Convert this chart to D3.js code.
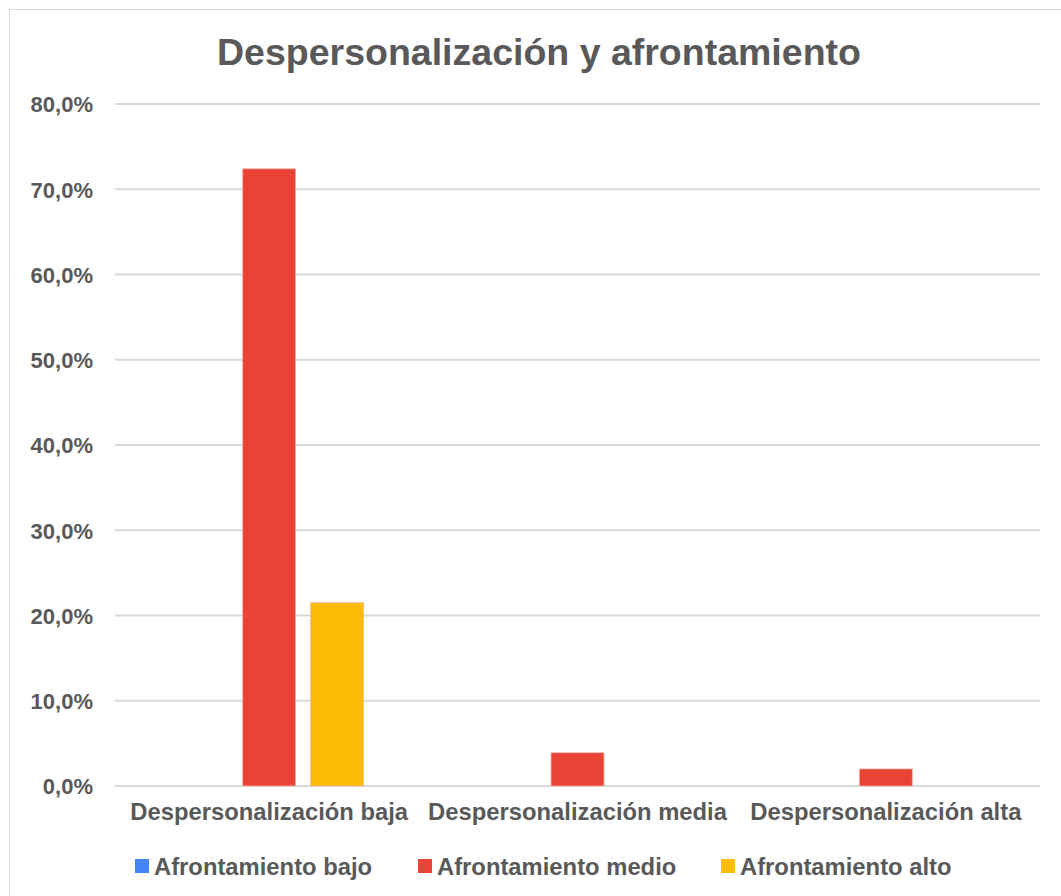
<!DOCTYPE html>
<html>
<head>
<meta charset="utf-8">
<script src="https://cdn.jsdelivr.net/npm/d3@7"></script>
<style>
  body { margin: 0; background: #fff; }
  text { font-family: "Liberation Sans", Arial, sans-serif; font-weight: bold; fill: #595959; }
</style>
</head>
<body>
<div id="chart"></div>
<script>
// data
let categories = ["Despersonalización baja", "Despersonalización media", "Despersonalización alta"];
let seriesNames = ["Afrontamiento bajo", "Afrontamiento medio", "Afrontamiento alto"];
let seriesColors = ["#4285f4", "#ea4335", "#fbbc04"];
let afrontamientoBajo = [0, 0, 0];
let afrontamientoMedio = [72.4, 3.9, 2.0];
let afrontamientoAlto = [21.5, 0, 0];
let yTicks = [0, 10, 20, 30, 40, 50, 60, 70, 80];

let seriesValues = [afrontamientoBajo, afrontamientoMedio, afrontamientoAlto];

let width = 1061, height = 896;
let plot = {left: 115, right: 1040, top: 104, bottom: 786};

let svg = d3.select("#chart").append("svg")
    .attr("width", width)
    .attr("height", height);

// outer chart border
svg.append("rect")
    .attr("x", 9.5).attr("y", 9.5)
    .attr("width", width + 20).attr("height", height + 20)
    .attr("fill", "#fff")
    .attr("stroke", "#d9d9d9");

// title
svg.append("text")
    .attr("x", 539)
    .attr("y", 65)
    .attr("text-anchor", "middle")
    .style("font-size", "37.5px")
    .text("Despersonalización y afrontamiento");

// scales
let y = d3.scaleLinear().domain([0, 80]).range([plot.bottom, plot.top]);
let x0 = d3.scaleBand().domain(categories).range([plot.left, plot.right]);
let x1 = d3.scaleBand().domain(seriesNames)
    .range([0, x0.bandwidth()])
    .paddingInner(0.22)
    .paddingOuter(0.88);

// gridlines
svg.append("g")
    .selectAll("line")
    .data(yTicks)
    .join("line")
    .attr("x1", plot.left)
    .attr("x2", plot.right)
    .attr("y1", d => y(d))
    .attr("y2", d => y(d))
    .attr("stroke", "#d9d9d9")
    .attr("stroke-width", 2);

// y axis labels
let yAxis = svg.append("g")
    .attr("transform", "translate(" + (plot.left - 22) + ",0)")
    .call(d3.axisLeft(y).tickValues(yTicks).tickSize(0)
        .tickFormat(d => d3.format(".1f")(d).replace(".", ",") + "%"));
yAxis.select(".domain").remove();
yAxis.selectAll("text")
    .attr("x", 0)
    .attr("dy", "0.36em")
    .style("font-size", "22px")
    .style("font-family", null)
    .attr("fill", null);

// bars
let barData = [];
categories.forEach((c, i) => {
    seriesNames.forEach((s, j) => {
        barData.push({cat: c, series: s, value: seriesValues[j][i], color: seriesColors[j]});
    });
});

svg.append("g")
    .selectAll("rect")
    .data(barData.filter(d => d.value > 0))
    .join("rect")
    .attr("x", d => x0(d.cat) + x1(d.series))
    .attr("y", d => y(d.value))
    .attr("width", x1.bandwidth())
    .attr("height", d => y(0) - y(d.value))
    .attr("fill", d => d.color)
    .attr("stroke", "#f6b3ad")
    .attr("stroke-width", 0.8);

// x axis labels
let xAxis = svg.append("g")
    .attr("transform", "translate(0," + (plot.bottom + 14) + ")")
    .call(d3.axisBottom(x0).tickSize(0));
xAxis.select(".domain").remove();
xAxis.selectAll("text")
    .attr("dy", "0.71em")
    .style("font-size", "23.8px")
    .style("font-family", null)
    .attr("fill", null);

// legend
let legendX = [135, 418, 721];
let legend = svg.append("g")
    .selectAll("g")
    .data(seriesNames)
    .join("g")
    .attr("transform", (d, i) => "translate(" + legendX[i] + ",866)");

legend.append("rect")
    .attr("x", 0).attr("y", -7)
    .attr("width", 14).attr("height", 14)
    .attr("fill", (d, i) => seriesColors[i]);

legend.append("text")
    .attr("x", 19)
    .attr("dy", "0.36em")
    .style("font-size", "23.8px")
    .text(d => d);
</script>
</body>
</html>
